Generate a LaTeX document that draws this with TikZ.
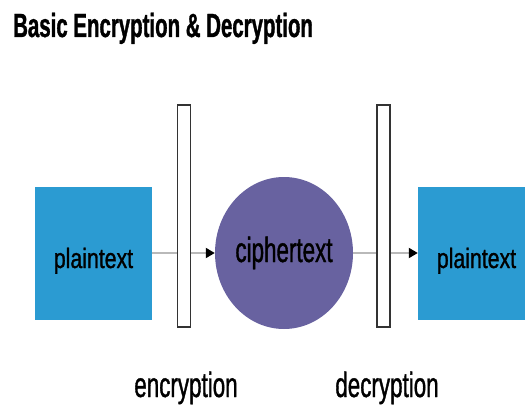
\documentclass[tikz,border=0pt]{standalone}
\usepackage{fontspec}
\usepackage{tikz}
\setmainfont{Liberation Sans}
\newfontfamily\titlefont[FakeStretch=0.61,FakeBold=1]{Liberation Sans}
\newfontfamily\boxfont[FakeStretch=0.76,FakeBold=1]{Liberation Sans}
\newfontfamily\labfont[FakeStretch=0.64,FakeBold=1]{Liberation Sans}
\usetikzlibrary{arrows.meta,shapes.geometric}
\definecolor{plainblue}{RGB}{43,155,210}
\definecolor{cipherpurple}{RGB}{104,98,160}
\definecolor{linegray}{RGB}{185,185,185}

\begin{document}
\begin{tikzpicture}
                \tikzset{x={(1pt, 0pt)}, y={(0pt, -1pt)},
                    plainbox/.style={fill=plainblue, minimum width=117pt, minimum height=133pt, inner sep=0pt,
                        text height=32pt, text depth=2pt, font=\boxfont\fontsize{28pt}{28pt}\selectfont},
                    cipherball/.style={ellipse, fill=cipherpurple, minimum width=138pt, minimum height=152pt, inner sep=0pt,
                        text height=20pt, text depth=2pt, font=\labfont\fontsize{35pt}{35pt}\selectfont},
                    plate/.style={draw=gray!40!black, line width=1.3pt, fill=white, minimum width=13pt, minimum height=222pt, inner sep=0pt},
                    flow/.style={draw=linegray, line width=1.8pt, -{Triangle[black,length=9pt,width=10pt]}},
                    steplabel/.style={anchor=base, inner sep=0pt, font=\labfont\fontsize{35pt}{35pt}\selectfont}}
                \useasboundingbox (0, 0) rectangle (525, 412);
                \node[anchor=base west, inner sep=0pt, font=\titlefont\bfseries\fontsize{33.5pt}{33.5pt}\selectfont] (title) at (13, 37) {Basic Encryption \& Decryption};
                \node[plainbox] (plainL) at ( 93.5, 253) {plaintext};
                \node[cipherball] (cipher) at (284, 253) {ciphertext};
                \node[plainbox] (plainR) at (476.5, 253) {plaintext};
                \draw[flow] (plainL.east) -- (cipher.west);
                \draw[flow] (cipher.east) -- (plainR.west);
                \node[plate] (encplate) at (184, 216) {};
                \node[plate] (decplate) at (383.5, 216) {};
                \node[steplabel] (enclabel) at (186, 397) {encryption};
                \node[steplabel] (declabel) at (387, 397) {decryption};
            \end{tikzpicture}
\end{document}
